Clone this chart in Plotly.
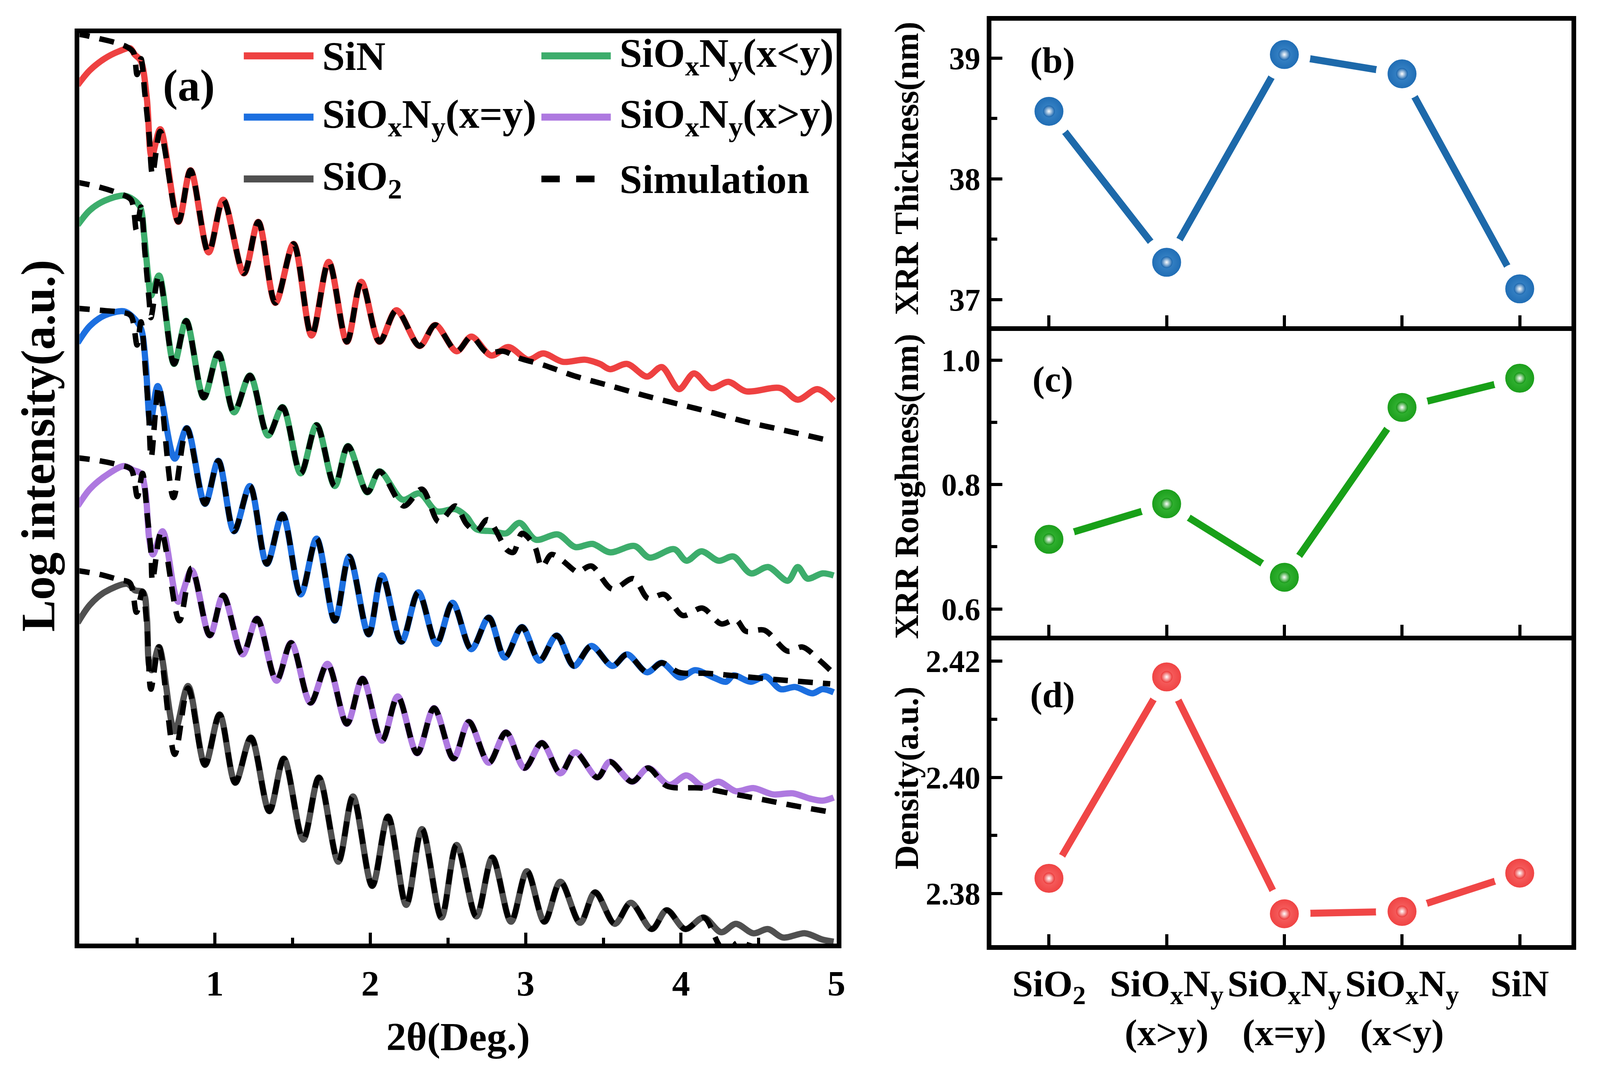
import plotly.graph_objects as go

# ---------------- (a) XRR curves: 2theta (deg) vs offset log intensity (a.u.)
sin_x = [0.118, 0.196, 0.290, 0.383, 0.454, 0.485, 0.524, 0.563, 0.594, 0.649, 0.766, 0.844,
         0.960, 1.054, 1.187, 1.280, 1.390, 1.507, 1.623, 1.733, 1.850, 1.943, 2.060, 2.169,
         2.318, 2.419, 2.556, 2.651, 2.778, 2.890, 3.017, 3.113, 3.240, 3.383, 3.478, 3.542,
         3.653, 3.781, 3.876, 3.987, 4.083, 4.194, 4.305, 4.417, 4.640, 4.751, 4.878, 4.982]
sin_y = [8.18, 8.32, 8.43, 8.50, 8.53, 8.47, 8.41, 8.05, 7.50, 7.76, 6.88, 7.37,
         6.59, 7.09, 6.39, 6.88, 6.11, 6.67, 5.80, 6.50, 5.74, 6.31, 5.74, 6.04,
         5.70, 5.90, 5.65, 5.79, 5.61, 5.69, 5.57, 5.63, 5.55, 5.57, 5.53, 5.48,
         5.53, 5.41, 5.50, 5.29, 5.44, 5.30, 5.36, 5.27, 5.30, 5.19, 5.29, 5.18]

xly_x = [0.118, 0.196, 0.290, 0.415, 0.477, 0.520, 0.547, 0.571, 0.590, 0.641, 0.738, 0.816,
         0.929, 1.023, 1.124, 1.226, 1.343, 1.436, 1.553, 1.655, 1.772, 1.857, 1.982, 2.060,
         2.208, 2.318, 2.427, 2.548, 2.619, 2.683, 2.794, 2.874, 2.961, 3.065, 3.208, 3.319,
         3.431, 3.542, 3.701, 3.797, 3.956, 4.035, 4.131, 4.242, 4.337, 4.449, 4.560, 4.687,
         4.751, 4.814, 4.910, 4.982]
xly_y = [6.85, 6.99, 7.08, 7.13, 7.09, 7.02, 6.73, 6.37, 6.18, 6.37, 5.53, 5.94,
         5.21, 5.63, 5.07, 5.42, 4.85, 5.12, 4.49, 4.95, 4.37, 4.75, 4.31, 4.51,
         4.24, 4.30, 4.13, 4.15, 4.08, 3.96, 3.94, 3.92, 4.02, 3.86, 3.91, 3.79,
         3.82, 3.74, 3.80, 3.69, 3.77, 3.66, 3.75, 3.66, 3.70, 3.54, 3.60, 3.47,
         3.60, 3.49, 3.54, 3.52]

xey_x = [0.118, 0.196, 0.290, 0.415, 0.469, 0.524, 0.555, 0.586, 0.633, 0.742, 0.820, 0.937,
         1.023, 1.124, 1.226, 1.335, 1.436, 1.553, 1.655, 1.772, 1.865, 1.990, 2.076, 2.201,
         2.310, 2.427, 2.530, 2.651, 2.763, 2.866, 2.977, 3.089, 3.200, 3.311, 3.423, 3.558,
         3.653, 3.781, 3.876, 3.995, 4.091, 4.210, 4.290, 4.337, 4.449, 4.544, 4.640, 4.735,
         4.846, 4.910, 4.982]
xey_y = [5.73, 5.89, 5.99, 6.03, 5.98, 5.87, 5.54, 4.97, 5.32, 4.63, 4.92, 4.20,
         4.61, 3.94, 4.37, 3.63, 4.10, 3.34, 3.87, 3.09, 3.70, 2.96, 3.52, 2.89,
         3.36, 2.87, 3.26, 2.82, 3.12, 2.74, 3.03, 2.71, 2.95, 2.66, 2.85, 2.66,
         2.77, 2.60, 2.69, 2.55, 2.62, 2.55, 2.51, 2.57, 2.51, 2.56, 2.44, 2.46,
         2.40, 2.44, 2.41]

xgy_x = [0.118, 0.196, 0.290, 0.415, 0.477, 0.524, 0.555, 0.578, 0.602, 0.664, 0.765, 0.851,
         0.968, 1.054, 1.179, 1.272, 1.397, 1.491, 1.616, 1.725, 1.850, 1.951, 2.076, 2.177,
         2.302, 2.411, 2.536, 2.635, 2.763, 2.874, 2.993, 3.105, 3.224, 3.319, 3.462, 3.542,
         3.685, 3.788, 3.924, 4.035, 4.146, 4.242, 4.353, 4.465, 4.592, 4.719, 4.830, 4.910,
         4.982]
xgy_y = [4.18, 4.34, 4.46, 4.56, 4.52, 4.49, 4.30, 3.87, 3.72, 3.94, 3.27, 3.57,
         2.95, 3.33, 2.77, 3.11, 2.52, 2.88, 2.31, 2.68, 2.11, 2.54, 1.95, 2.37,
         1.83, 2.26, 1.78, 2.13, 1.74, 2.03, 1.69, 1.93, 1.64, 1.84, 1.60, 1.75,
         1.56, 1.69, 1.53, 1.62, 1.51, 1.56, 1.47, 1.50, 1.44, 1.45, 1.40, 1.38,
         1.41]

sio2_x = [0.118, 0.196, 0.290, 0.438, 0.485, 0.539, 0.563, 0.578, 0.594, 0.641, 0.742, 0.828,
          0.937, 1.031, 1.132, 1.233, 1.351, 1.444, 1.569, 1.670, 1.795, 1.889, 2.013, 2.115,
          2.232, 2.333, 2.458, 2.556, 2.683, 2.786, 2.906, 3.009, 3.121, 3.224, 3.351, 3.447,
          3.574, 3.677, 3.812, 3.908, 4.027, 4.146, 4.258, 4.353, 4.465, 4.560, 4.655, 4.799,
          4.910, 4.982]
sio2_y = [3.07, 3.24, 3.36, 3.44, 3.38, 3.36, 3.12, 2.66, 2.62, 2.84, 2.04, 2.47,
          1.72, 2.20, 1.55, 1.98, 1.28, 1.78, 1.01, 1.60, 0.80, 1.42, 0.57, 1.23,
          0.39, 1.11, 0.27, 0.96, 0.28, 0.84, 0.23, 0.71, 0.23, 0.61, 0.22, 0.51,
          0.21, 0.41, 0.16, 0.34, 0.16, 0.27, 0.13, 0.21, 0.12, 0.16, 0.08, 0.12,
          0.06, 0.04]

# simulations: own start (critical edge) and own tail, measured curve in between
sin_sim_head_x = [0.10, 0.134, 0.259, 0.368, 0.438, 0.477, 0.500, 0.525, 0.550, 0.578, 0.599, 0.649]
sin_sim_head_y = [8.66, 8.66, 8.62, 8.58, 8.54, 8.49, 8.28, 8.43, 8.10, 7.69, 7.33, 7.74]
sin_sim_span = (0.76, 2.66)
sin_sim_tail_x = [2.75, 2.86, 2.95, 3.113, 3.327, 3.55, 3.765, 3.979, 4.194, 4.417, 4.631, 4.93]
sin_sim_tail_y = [5.64, 5.65, 5.59, 5.52, 5.41, 5.32, 5.23, 5.15, 5.07, 4.98, 4.91, 4.81]

xly_sim_head_x = [0.10, 0.259, 0.383, 0.461, 0.496, 0.525, 0.550, 0.578, 0.589, 0.641]
xly_sim_head_y = [7.26, 7.21, 7.15, 7.09, 6.80, 7.02, 6.60, 6.13, 5.97, 6.37]
xly_sim_span = (0.73, 2.07)
xly_sim_tail_x = [2.216, 2.333, 2.442, 2.548, 2.619, 2.683, 2.755, 2.882, 2.922, 2.977, 3.057,
                  3.105, 3.168, 3.311, 3.335, 3.423, 3.558, 3.693, 3.789, 3.892, 4.011, 4.138,
                  4.258, 4.353, 4.417, 4.536, 4.687, 4.782, 4.894, 4.96]
xly_sim_tail_y = [4.18, 4.34, 4.03, 4.18, 4.01, 3.94, 4.05, 3.76, 3.74, 3.92, 3.80,
                  3.60, 3.72, 3.57, 3.55, 3.61, 3.39, 3.49, 3.30, 3.34, 3.14, 3.21,
                  3.06, 3.10, 2.99, 3.00, 2.80, 2.84, 2.71, 2.62]

xey_sim_head_x = [0.10, 0.259, 0.399, 0.460, 0.500, 0.525, 0.555, 0.575, 0.591, 0.641, 0.734, 0.820]
xey_sim_head_y = [6.06, 6.04, 6.02, 5.99, 5.71, 5.93, 5.45, 5.05, 4.64, 5.32, 4.26, 4.92]
xey_sim_span = (0.93, 3.88)
xey_sim_tail_x = [3.987, 4.170, 4.393, 4.616, 4.878, 4.96]
xey_sim_tail_y = [2.60, 2.59, 2.56, 2.53, 2.50, 2.49]

xgy_sim_head_x = [0.10, 0.259, 0.383, 0.461, 0.502, 0.535, 0.565, 0.589, 0.599, 0.656, 0.772, 0.851]
xgy_sim_head_y = [4.64, 4.61, 4.57, 4.53, 4.27, 4.49, 4.10, 3.75, 3.47, 3.94, 3.09, 3.59]
xgy_sim_span = (0.96, 3.79)
xgy_sim_tail_x = [3.908, 4.131, 4.314, 4.528, 4.735, 4.97]
xgy_sim_tail_y = [1.52, 1.50, 1.45, 1.39, 1.33, 1.27]

sio2_sim_head_x = [0.10, 0.259, 0.383, 0.454, 0.496, 0.535, 0.565, 0.589, 0.641, 0.742, 0.828]
sio2_sim_head_y = [3.57, 3.53, 3.48, 3.45, 3.17, 3.37, 3.00, 2.44, 2.84, 1.82, 2.45]
sio2_sim_span = (0.93, 4.15)
sio2_sim_tail_x = [4.24, 4.30, 4.36, 4.45, 4.60, 4.80, 4.95]
sio2_sim_tail_y = [0.02, -0.10, 0.03, 0.00, -0.05, -0.08, -0.12]

# ---------------- (b)-(d) fitted parameters
samples = ["SiO2", "SiOxNy(x>y)", "SiOxNy(x=y)", "SiOxNy(x<y)", "SiN"]
sample_labels = ["SiO<sub>2</sub>",
                 "SiO<sub>x</sub>N<sub>y</sub><br>(x&gt;y)",
                 "SiO<sub>x</sub>N<sub>y</sub><br>(x=y)",
                 "SiO<sub>x</sub>N<sub>y</sub><br>(x&lt;y)",
                 "SiN"]
thickness = [38.56, 37.31, 39.03, 38.87, 37.09]
roughness = [0.712, 0.769, 0.651, 0.924, 0.971]
density = [2.3826, 2.4173, 2.3765, 2.3769, 2.3835]


def with_sim(xs, ys, head_x, head_y, span, tail_x, tail_y):
    lo, hi = span
    mid = [(x, y) for x, y in zip(xs, ys) if lo <= x <= hi]
    return (head_x + [m[0] for m in mid] + tail_x,
            head_y + [m[1] for m in mid] + tail_y)


FONT = "Liberation Serif"
fig = go.Figure()

exp_curves = [
    ("SiN", sin_x, sin_y, "#EE4141"),
    ("SiO<sub>x</sub>N<sub>y</sub>(x&lt;y)", xly_x, xly_y, "#3DAD6C"),
    ("SiO<sub>x</sub>N<sub>y</sub>(x=y)", xey_x, xey_y, "#1C6FE0"),
    ("SiO<sub>x</sub>N<sub>y</sub>(x&gt;y)", xgy_x, xgy_y, "#AE79E0"),
    ("SiO<sub>2</sub>", sio2_x, sio2_y, "#505050"),
]
for name, xs, ys, col in exp_curves:
    fig.add_trace(go.Scatter(x=xs, y=ys, mode="lines", name=name,
                             line=dict(color=col, width=16, shape="spline", smoothing=0.9)))

sims = [
    with_sim(sin_x, sin_y, sin_sim_head_x, sin_sim_head_y, sin_sim_span, sin_sim_tail_x, sin_sim_tail_y),
    with_sim(xly_x, xly_y, xly_sim_head_x, xly_sim_head_y, xly_sim_span, xly_sim_tail_x, xly_sim_tail_y),
    with_sim(xey_x, xey_y, xey_sim_head_x, xey_sim_head_y, xey_sim_span, xey_sim_tail_x, xey_sim_tail_y),
    with_sim(xgy_x, xgy_y, xgy_sim_head_x, xgy_sim_head_y, xgy_sim_span, xgy_sim_tail_x, xgy_sim_tail_y),
    with_sim(sio2_x, sio2_y, sio2_sim_head_x, sio2_sim_head_y, sio2_sim_span, sio2_sim_tail_x, sio2_sim_tail_y),
]
SIM_DASH = "38px,26px"
for sx, sy in sims:
    fig.add_trace(go.Scatter(x=sx, y=sy, mode="lines", name="Simulation",
                             line=dict(color="black", width=14, dash=SIM_DASH,
                                       shape="spline", smoothing=0.9)))

# right panels: line + glossy ball markers (white ring leaves the gap to the line)
xpos = list(range(len(samples)))
panels = [
    (thickness, "#1D69AA", "#1462AC", "#3F8ACB", "x2", "y2"),
    (roughness, "#18A018", "#0E930E", "#3DBB3D", "x3", "y3"),
    (density, "#F04646", "#EC3434", "#F86A6A", "x4", "y4"),
]
for vals, lcol, mcol, hcol, xa, ya in panels:
    fig.add_trace(go.Scatter(
        x=xpos, y=vals, mode="lines+markers", xaxis=xa, yaxis=ya,
        line=dict(color=lcol, width=18),
        marker=dict(size=104, color=mcol, gradient=dict(type="radial", color=hcol),
                    line=dict(color="white", width=30))))
    fig.add_trace(go.Scatter(
        x=xpos, y=vals, mode="markers", xaxis=xa, yaxis=ya, hoverinfo="skip",
        marker=dict(size=30, color=mcol, gradient=dict(type="radial", color="white"),
                    line=dict(width=0))))

frame = dict(showline=True, linewidth=12, linecolor="black", mirror=True,
             showgrid=False, zeroline=False, ticks="inside", tickwidth=8,
             ticklen=28, tickcolor="black")
minor_in = dict(ticks="inside", ticklen=15, tickwidth=8, tickcolor="black")

fig.update_layout(
    autosize=True, margin=dict(l=0, r=0, t=0, b=0, pad=0), showlegend=False,
    paper_bgcolor="white", plot_bgcolor="white",
    font=dict(family=FONT, size=80, color="black", weight="bold"),
    xaxis=dict(frame, domain=[0.04995, 0.5258], range=[0.1295, 5.002], anchor="y",
               tickvals=[1, 2, 3, 4, 5], tickfont=dict(size=92), ticklabelstandoff=11,
               minor=dict(minor_in, dtick=0.5, tick0=0)),
    yaxis=dict(frame, domain=[0.1173, 0.9689], range=[0.022, 8.672], anchor="x",
               ticks="", showticklabels=False),
    xaxis2=dict(frame, domain=[0.6229, 0.9875], range=[-0.49, 4.44], anchor="y2",
                tickvals=xpos, showticklabels=False),
    yaxis2=dict(frame, domain=[0.6948, 0.9806], range=[36.78, 39.31], anchor="x2",
                tickvals=[37, 38, 39], tickfont=dict(size=80),
                minor=dict(minor_in, tickvals=[37.5, 38.5])),
    xaxis3=dict(frame, domain=[0.6229, 0.9875], range=[-0.49, 4.44], anchor="y3",
                tickvals=xpos, showticklabels=False),
    yaxis3=dict(frame, domain=[0.4053, 0.6904], range=[0.557, 1.047], anchor="x3",
                tickvals=[0.6, 0.8, 1.0], tickformat=".1f", tickfont=dict(size=80),
                minor=dict(minor_in, tickvals=[0.7, 0.9])),
    xaxis4=dict(frame, domain=[0.6229, 0.9875], range=[-0.49, 4.44], anchor="y4",
                tickvals=xpos, ticktext=sample_labels, tickfont=dict(size=96),
                tickangle=0, ticklabelstandoff=4),
    yaxis4=dict(frame, domain=[0.1159, 0.4010], range=[2.3711, 2.4236], anchor="x4",
                tickvals=[2.38, 2.40, 2.42], tickformat=".2f", tickfont=dict(size=80),
                minor=dict(minor_in, tickvals=[2.39, 2.41])),
)

# legend of (a): 2 columns x 3 rows, drawn as keys + labels in paper space
leg_key_x = [(0.1532, 0.1970), (0.3402, 0.3838)]
leg_text_x = [0.2019, 0.3887]
leg_rows = [0.9477, 0.8904, 0.8326]
leg_items = [exp_curves[0], exp_curves[1], exp_curves[2], exp_curves[3], exp_curves[4],
             ("Simulation", None, None, "black")]
for k, item in enumerate(leg_items):
    name, col = item[0], item[3]
    c, r = k % 2, k // 2
    x0, x1 = leg_key_x[c]
    if name == "Simulation":
        fig.add_shape(type="line", xref="paper", yref="paper", x0=x0, x1=x0 + 0.0336,
                      y0=leg_rows[r], y1=leg_rows[r],
                      line=dict(color=col, width=17, dash="47px,42px"))
    else:
        fig.add_shape(type="line", xref="paper", yref="paper", x0=x0, x1=x1,
                      y0=leg_rows[r], y1=leg_rows[r], line=dict(color=col, width=18))
    fig.add_annotation(text=name, x=leg_text_x[c], y=leg_rows[r], xref="paper", yref="paper",
                       showarrow=False, xanchor="left", yanchor="middle",
                       font=dict(size=104, family=FONT, weight="bold", color="black"))

ann = [
    dict(text="(a)", x=0.1188, y=0.920, size=114, angle=0),
    dict(text="(b)", x=0.6614, y=0.9438, size=94, angle=0),
    dict(text="(c)", x=0.6614, y=0.6455, size=94, angle=0),
    dict(text="(d)", x=0.6614, y=0.350, size=94, angle=0),
    dict(text="Log intensity(a.u.)", x=0.0241, y=0.5830, size=122, angle=-90),
    dict(text="2θ(Deg.)", x=0.2879, y=0.030, size=102, angle=0),
    dict(text="XRR Thickness(nm)", x=0.5696, y=0.8425, size=86, angle=-90),
    dict(text="XRR Roughness(nm)", x=0.5696, y=0.545, size=86, angle=-90),
    dict(text="Density(a.u.)", x=0.5696, y=0.272, size=86, angle=-90),
]
for a in ann:
    fig.add_annotation(text=a["text"], x=a["x"], y=a["y"], xref="paper", yref="paper",
                       showarrow=False, textangle=a["angle"], xanchor="center", yanchor="middle",
                       font=dict(size=a["size"], family=FONT, weight="bold", color="black"))

# fill the browser window exactly (no body margin, no scrollbars, no modebar)
fig.write_html("out.html", default_width="100vw", default_height="100vh",
               config={"displayModeBar": False},
               post_script="document.body.style.margin='0';document.body.style.overflow='hidden';"
                           "Plotly.Plots.resize(document.getElementById('{plot_id}'));")
